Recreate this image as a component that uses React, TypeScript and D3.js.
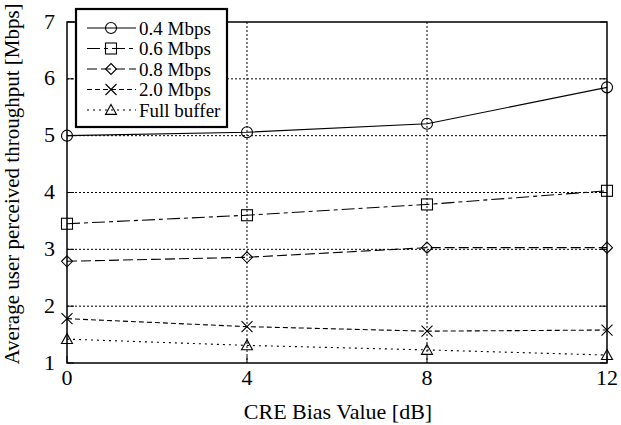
import React from "react";
import * as d3 from "d3";

const xValues = [0, 4, 8, 12];
const seriesNames = ["0.4 Mbps", "0.6 Mbps", "0.8 Mbps", "2.0 Mbps", "Full buffer"];
const s04 = [5.0, 5.06, 5.21, 5.85];
const s06 = [3.45, 3.6, 3.79, 4.03];
const s08 = [2.79, 2.86, 3.03, 3.03];
const s20 = [1.78, 1.64, 1.56, 1.58];
const sFull = [1.42, 1.31, 1.23, 1.14];
const yTicks = [1, 2, 3, 4, 5, 6, 7];
const xTicks = [0, 4, 8, 12];

const allSeries = [s04, s06, s08, s20, sFull];
const dashes = ["", "13,4,4,4", "10,4", "5,3", "2,4"];
const markers = ["circle", "square", "diamond", "x", "triangle"];

const W = 621, H = 425;
const left = 67, right = 607, top = 22, bottom = 363;
const FONT = "Liberation Serif";

function Marker({ type, x, y }: { type: string; x: number; y: number }) {
  const s = 5.5;
  const st = { fill: "none", stroke: "#000", strokeWidth: 1.1 };
  if (type === "circle") return <circle cx={x} cy={y} r={s} {...st} />;
  if (type === "square") return <rect x={x - s} y={y - s} width={2 * s} height={2 * s} {...st} />;
  if (type === "diamond")
    return <path d={`M${x},${y - s}L${x + s},${y}L${x},${y + s}L${x - s},${y}Z`} {...st} />;
  if (type === "x")
    return <path d={`M${x - s},${y - s}L${x + s},${y + s}M${x - s},${y + s}L${x + s},${y - s}`} {...st} />;
  return <path d={`M${x},${y - s}L${x + s},${y + s * 0.8}L${x - s},${y + s * 0.8}Z`} {...st} />;
}

export default function App() {
  const xs = d3.scaleLinear().domain([0, 12]).range([left, right]);
  const ys = d3.scaleLinear().domain([1, 7]).range([bottom, top]);
  const line = d3
    .line<number>()
    .x((_, i) => xs(xValues[i]))
    .y((d) => ys(d));
  const tstyle = { fontFamily: FONT };
  const legX = 76, legY = 9, legW = 151, legH = 118;
  return (
    <svg
      width={W}
      height={H}
      style={{ position: "absolute", left: 0, top: 0, background: "#fff", fontFamily: FONT }}
    >
      <rect x={0} y={0} width={W} height={H} fill="#fff" />
      {xTicks.slice(1, -1).map((t) => (
        <line key={"gx" + t} x1={xs(t)} x2={xs(t)} y1={top} y2={bottom} stroke="#000" strokeWidth={1} strokeDasharray="2,2" />
      ))}
      {yTicks.slice(1, -1).map((t) => (
        <line key={"gy" + t} x1={left} x2={right} y1={ys(t)} y2={ys(t)} stroke="#000" strokeWidth={1} strokeDasharray="2,2" />
      ))}
      <rect x={left} y={top} width={right - left} height={bottom - top} fill="none" stroke="#000" strokeWidth={1.5} />
      {yTicks.map((t) => (
        <g key={"ty" + t}>
          <line x1={left} x2={left + 7} y1={ys(t)} y2={ys(t)} stroke="#000" />
          <line x1={right} x2={right - 7} y1={ys(t)} y2={ys(t)} stroke="#000" />
          <text style={tstyle} x={left - 12} y={ys(t)} dy="0.3em" textAnchor="end" fontSize={22}>
            {t}
          </text>
        </g>
      ))}
      {xTicks.map((t) => (
        <g key={"tx" + t}>
          <line x1={xs(t)} x2={xs(t)} y1={bottom} y2={bottom - 7} stroke="#000" />
          <text style={tstyle} x={xs(t)} y={bottom + 22} textAnchor="middle" fontSize={22}>
            {t}
          </text>
        </g>
      ))}
      {allSeries.map((s, i) => (
        <g key={"s" + i}>
          <path d={line(s) || ""} fill="none" stroke="#000" strokeWidth={1.1} strokeDasharray={dashes[i] || undefined} />
          {s.map((v, j) => (
            <Marker key={j} type={markers[i]} x={xs(xValues[j])} y={ys(v)} />
          ))}
        </g>
      ))}
      <text style={tstyle} x={338} y={419} textAnchor="middle" fontSize={22}>
        CRE Bias Value [dB]
      </text>
      <text style={tstyle} transform={`translate(19,184) rotate(-90)`} textAnchor="middle" fontSize={21}>
        Average user perceived throughput [Mbps]
      </text>
      <rect x={legX} y={legY} width={legW} height={legH} fill="#fff" stroke="#000" strokeWidth={2.2} />
      {seriesNames.map((n, i) => {
        const y = 28 + i * 20.5;
        return (
          <g key={"l" + i}>
            <line x1={87} x2={136} y1={y} y2={y} stroke="#000" strokeWidth={1.1} strokeDasharray={dashes[i] || undefined} />
            <Marker type={markers[i]} x={111} y={y} />
            <text style={tstyle} x={139} y={y} dy="0.35em" fontSize={19}>
              {n}
            </text>
          </g>
        );
      })}
    </svg>
  );
}
